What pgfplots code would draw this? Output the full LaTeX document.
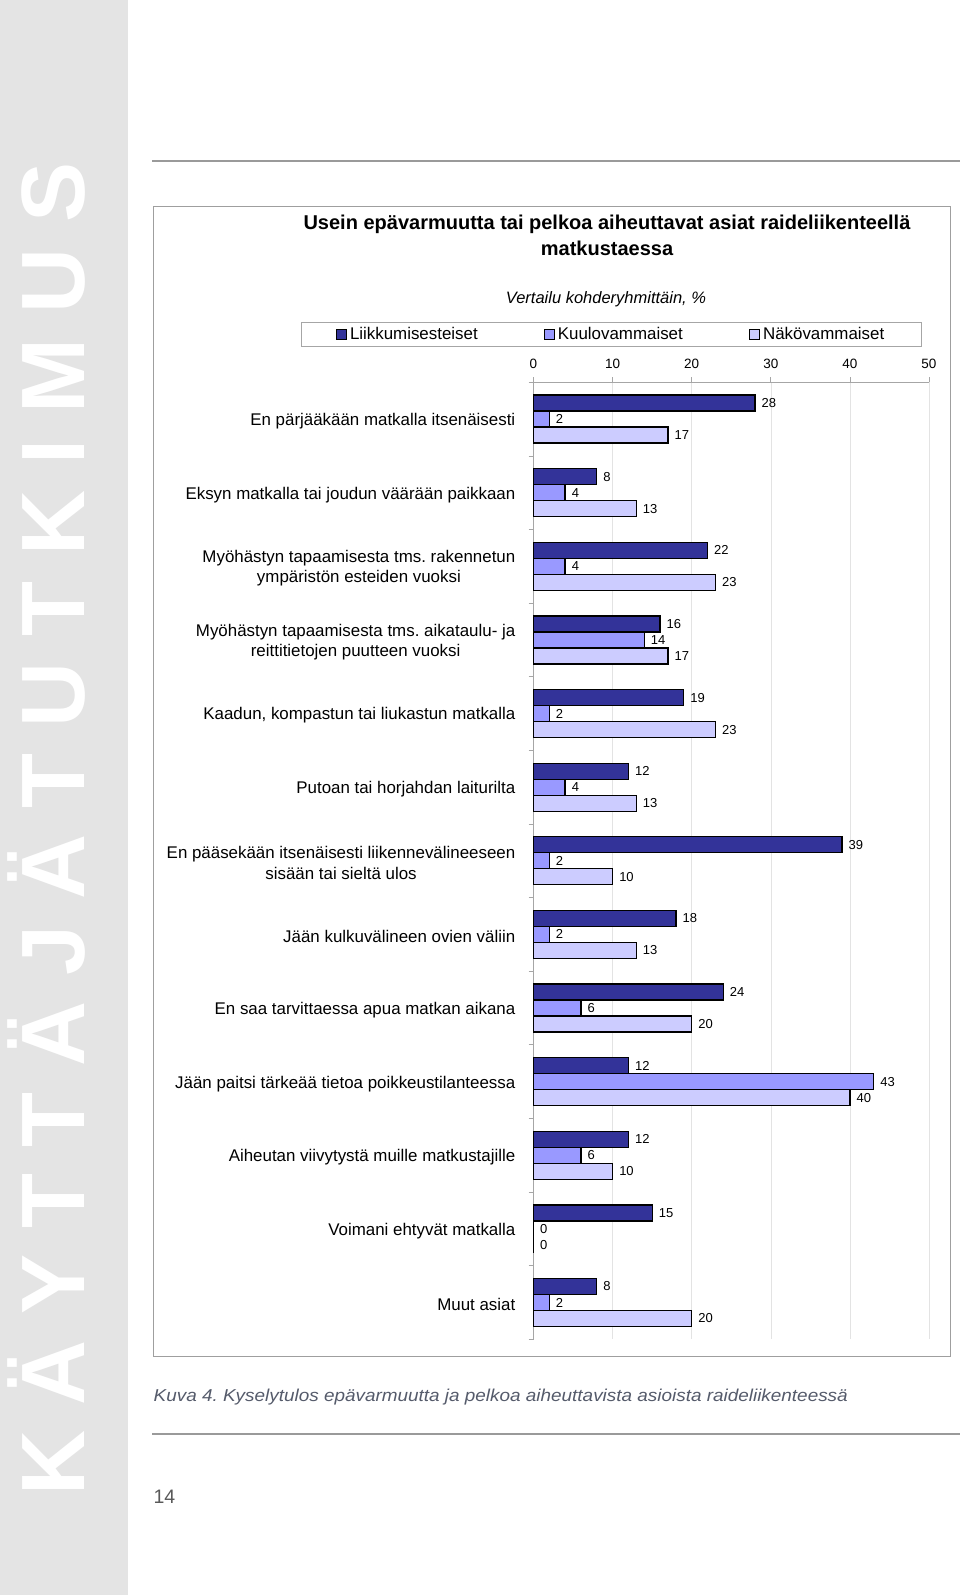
\documentclass[border=0pt]{standalone}
\usepackage{fontspec}
\setmainfont{Liberation Sans}
\usepackage{pgfplots}
\pgfplotsset{compat=1.18}
\definecolor{cA}{HTML}{333399}
\definecolor{cB}{HTML}{9999FF}
\definecolor{cC}{HTML}{CCCCFF}
\definecolor{strip}{HTML}{E4E4E4}
\definecolor{capc}{HTML}{555B6B}
\definecolor{rule}{HTML}{9A9A9A}

\pgfplotstableread{
y A B C
0 28 2 17
1 8 4 13
2 22 4 23
3 16 14 17
4 19 2 23
5 12 4 13
6 39 2 10
7 18 2 13
8 24 6 20
9 12 43 40
10 12 6 10
11 15 0 0
12 8 2 20
}\datatable

\begin{document}
\frenchspacing
\begin{tikzpicture}[x=1pt,y=1pt]
\useasboundingbox (0pt,0pt) rectangle (960pt,-1595pt);
\fill[white] (0pt,0pt) rectangle (960pt,-1595pt);
\fill[strip] (0pt,0pt) rectangle (127.7pt,-1595pt);
\node[rotate=90, anchor=base west, inner sep=0pt, text=white,
  font=\fontsize{90}{90}\selectfont\bfseries\addfontfeature{LetterSpace=28.8}]
  at (84pt,-1496pt) {KÄYTTÄJÄTUTKIMUS};
\draw[rule, line width=1.8pt] (152pt,-160.7pt) -- (960pt,-160.7pt);
\draw[rule, line width=1.8pt] (152pt,-1434pt) -- (960pt,-1434pt);
\draw[gray!75, line width=0.9pt] (153.3pt,-206.4pt) rectangle (950.8pt,-1356.7pt);

\node[anchor=base, inner sep=0pt, font=\fontsize{20}{24}\selectfont\bfseries]
  at (607pt,-229.5pt) {Usein epävarmuutta tai pelkoa aiheuttavat asiat raideliikenteellä};
\node[anchor=base, inner sep=0pt, font=\fontsize{20}{24}\selectfont\bfseries]
  at (607pt,-255pt) {matkustaessa};
\node[anchor=base, inner sep=0pt, font=\fontsize{16.5}{20}\selectfont\itshape]
  at (606pt,-303pt) {Vertailu kohderyhmittäin, \%};

\node[anchor=base west, inner sep=0pt, text=capc,
  font=\fontsize{17.2}{20}\selectfont\itshape\addfontfeature{FakeStretch=1.1}]
  at (153.5pt,-1401pt) {Kuva 4. Kyselytulos epävarmuutta ja pelkoa aiheuttavista asioista raideliikenteessä};
\node[anchor=base west, inner sep=0pt, text=black!65, font=\fontsize{19.5}{22}\selectfont]
  at (153.3pt,-1503.3pt) {14};

\pgfplotsset{/pgf/number format/assume math mode=true}
\begin{axis}[
  at={(533.5pt,-382.3pt)}, anchor=north west,
  scale only axis, width=395.5pt, height=957pt,
  xbar, bar width=16pt,
  xmin=0, xmax=50, ymin=-0.5, ymax=12.5, y dir=reverse,
  axis x line*=top, axis y line*=left,
  axis line style={gray!70, line width=0.8pt},
  xtick={0,10,...,50},
  xmajorgrids, grid style={gray!22, line width=0.6pt},
  tick align=outside, major tick length=5pt,
  tick style={gray!70, line width=0.8pt},
  xticklabel style={font=\fontsize{13.5}{15}\selectfont, yshift=5pt},
  ytick={-0.5,0.5,...,12.5},
  yticklabels={},
  extra y ticks={0,1,2,3,4,5,6,7,8,9,10,11,12},
  extra y tick labels={
    En pärjääkään matkalla itsenäisesti,
    Eksyn matkalla tai joudun väärään paikkaan,
    {Myöhästyn tapaamisesta tms. rakennetun\\ympäristön esteiden vuoksi},
    {Myöhästyn tapaamisesta tms. aikataulu- ja\\reittitietojen puutteen vuoksi},
    {Kaadun, kompastun tai liukastun matkalla},
    Putoan tai horjahdan laiturilta,
    {En pääsekään itsenäisesti liikennevälineeseen\\sisään tai sieltä ulos},
    Jään kulkuvälineen ovien väliin,
    En saa tarvittaessa apua matkan aikana,
    Jään paitsi tärkeää tietoa poikkeustilanteessa,
    Aiheutan viivytystä muille matkustajille,
    Voimani ehtyvät matkalla,
    Muut asiat},
  extra y tick style={major tick length=0pt,
    yticklabel style={font=\fontsize{16.9}{20.5}\selectfont, align=center, inner sep=0pt, xshift=-18pt, yshift=-2pt}},
  legend columns=3,
  legend style={at={(axis description cs:0.1975,1.05)}, anchor=center,
    draw=gray!70, line width=0.8pt, font=\fontsize{16.9}{20}\selectfont,
    inner xsep=35pt, inner ysep=3pt,
    /tikz/every even column/.append style={column sep=64pt},
    nodes={inner xsep=2.6pt, inner ysep=2pt}},
  legend image code/.code={\draw[#1, line width=1pt] (0pt,-5pt) rectangle (10pt,5pt);},
  nodes near coords,
  every node near coord/.append style={anchor=west, inner sep=0pt, xshift=6pt,
    font=\fontsize{13}{15}\selectfont, text=black},
  clip=false,
]
\addplot[fill=cA, draw=black, line width=1.3pt, bar shift=16pt] table[x=A, y=y] {\datatable};
\addplot[fill=cB, draw=black, line width=1.3pt, bar shift=0pt] table[x=B, y=y] {\datatable};
\addplot[fill=cC, draw=black, line width=1.3pt, bar shift=-16pt] table[x=C, y=y] {\datatable};
\legend{Liikkumisesteiset, Kuulovammaiset, Näkövammaiset}
\end{axis}
\end{tikzpicture}
\end{document}
